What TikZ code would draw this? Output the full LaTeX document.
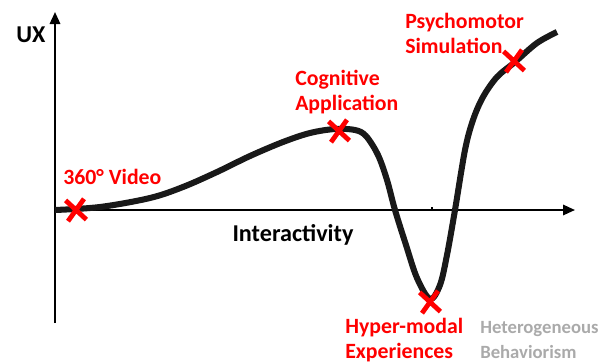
\documentclass[tikz,border=0pt]{standalone}
\usepackage{fontspec}
\setmainfont{Carlito}
\usetikzlibrary{arrows.meta}
\definecolor{lgray}{RGB}{170,170,170}
\newcommand\cross[1]{\draw[redx] (#1)++(-.26,.24) -- ++(.52,-.48) (#1)++(-.2,-.28) -- ++(.4,.56);}
\tikzset{
  axisline/.style={black, line width=1.4pt, -{Triangle[length=3mm,width=2.6mm]}},
  curveline/.style={black!90, line width=4.3pt},
  redx/.style={red, line width=3.4pt},
  lbl/.style={font=\bfseries\fontsize{15.5}{17.8}\selectfont, align=left, inner sep=0pt},
  biglbl/.style={lbl, font=\bfseries\fontsize{17.2}{20}\selectfont},
}

\begin{document}
\begin{tikzpicture}

\useasboundingbox (0,0) rectangle (15.2,9.05);

\coordinate (O) at (1.375,3.8);
\coordinate (Ytop) at (1.375,8.75);
\coordinate (Ybot) at (1.375,0.975);
\coordinate (Xend) at (14.375,3.8);
\coordinate (X1) at (1.9,3.8);
\coordinate (X2) at (8.475,5.775);
\coordinate (X3) at (10.75,1.5);
\coordinate (X4) at (12.85,7.525);

\draw[axisline] (Ybot) -- (Ytop);
\draw[axisline] (O) -- (Xend);
\draw[black, line width=.8pt] (10.8,3.8) -- ++(0,.07);

\draw[curveline] plot[smooth, tension=.55] coordinates {
  (1.375,3.8) (2.5,3.875) (3.75,4.1) (4.575,4.375) (5.425,4.75) (6.25,5.15)
  (7.075,5.5) (7.75,5.725) (8.375,5.825) (8.875,5.8) (9.15,5.65) (9.45,5.175)
  (9.675,4.55) (9.875,3.8) (10.15,2.925) (10.425,2.1) (10.75,1.575) (11.0,1.925)
  (11.175,2.675) (11.375,3.8) (11.625,5.3) (11.825,6.05) (12.075,6.625)
  (12.425,7.125) (12.875,7.5) (13.425,7.975) (13.925,8.25)};

\cross{X1}
\cross{X2}
\cross{X3}
\cross{X4}

\node[biglbl] (ux) at (0.775,8.175) {UX};
\node[biglbl] (inter) at (7.325,3.175) {Interactivity};
\node[lbl, red, anchor=west] (video) at (1.575,4.625) {360° Video};
\node[lbl, red, anchor=west] (cogn) at (7.375,6.75) {Cognitive\\Application};
\node[lbl, red, anchor=west] (psych) at (10.125,8.225) {Psychomotor\\Simulation};
\node[lbl, red, anchor=west] (hyper) at (8.625,0.55) {Hyper-modal\\Experiences};
\node[lbl, lgray, anchor=west, font=\bfseries\fontsize{13.3}{17.8}\selectfont] (hetero) at (12.0,0.55) {Heterogeneous\\Behaviorism};

\end{tikzpicture}
\end{document}
